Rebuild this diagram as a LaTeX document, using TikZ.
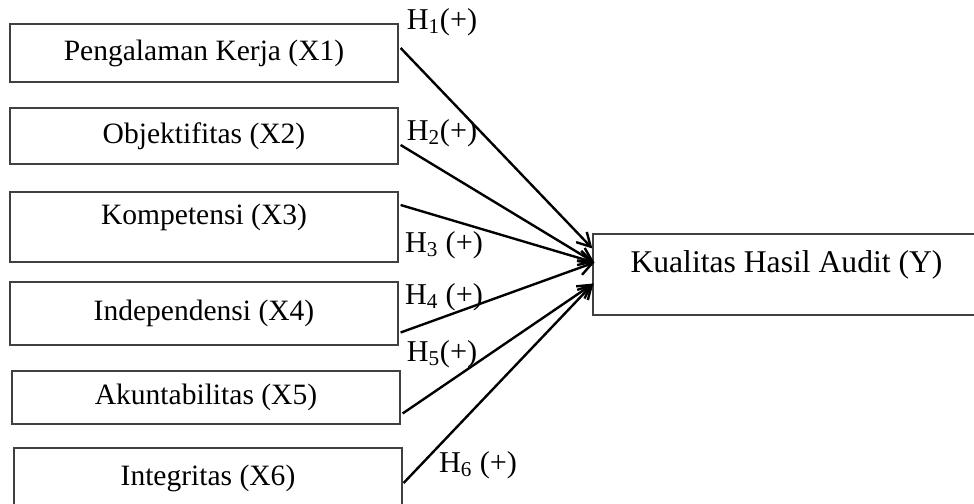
\documentclass[tikz,border=0pt]{standalone}
\usepackage{fontspec}
\setmainfont{Liberation Serif}
\usetikzlibrary{positioning}
\usetikzlibrary{calc}
\usetikzlibrary{arrows.meta}

\begin{document}
\begin{tikzpicture}[x = 0.025cm, y = -0.025cm,
                            varbox/.style = {draw = black!75, line width = 0.8pt, inner sep = 0pt, minimum width = 9.7cm, font = \fontsize{21}{25}\selectfont},
                            hlabel/.style = {inner sep = 0pt, font = \fontsize{21.5}{25}\selectfont},
                            link/.style = {black, line width = 1.7pt, -{Straight Barb[length = 9.5pt, width = 10.5pt]}}]
                            \useasboundingbox (0, 0) rectangle (974, 504);
                            \node[varbox, minimum height = 1.45cm] (x1) at (204, 53) {Pengalaman Kerja (X1)};
                            \node[varbox, minimum height = 1.4cm] (x2) at (204, 136) {Objektifitas (X2)};
                            \node[varbox, minimum height = 1.75cm, text height = 0.51cm, text depth = 0.62cm] (x3) at (204, 227) {Kompetensi (X3)};
                            \node[varbox, minimum height = 1.575cm] (x4) at (204, 313.5) {Independensi (X4)};
                            \node[varbox, minimum height = 1.325cm] (x5) at (206, 397.5) {Akuntabilitas (X5)};
                            \node[varbox, minimum height = 1.5cm] (x6) at (208, 478) {Integritas (X6)};
                            \node[varbox, minimum width = 9.675cm, minimum height = 2.025cm, text height = 0.55cm, text depth = 0.67cm, font = \fontsize{22.5}{27}\selectfont] (kha) at (786.5, 274.5) {Kualitas Hasil Audit (Y)};
                            \draw[link] ($(x1.east) + (2, -5)$) -- ($(kha.west) + (0, -26)$);
                            \draw[link] ($(x2.east) + (2, 9)$) -- ($(kha.west) + (2, -12)$);
                            \draw[link] ($(x3.east) + (2, -22)$) -- ($(kha.west) + (2, -12)$);
                            \draw[link] ($(x4.east) + (2, 19)$) -- ($(kha.west) + (2, -12)$);
                            \draw[link] ($(x5.east) + (2, 16)$) -- ($(kha.west) + (1, 9)$);
                            \draw[link] ($(x6.east) + (1, 5)$) -- ($(kha.west) + (1, 9)$);
                            \node[hlabel] (h1) at (442, 22) {H\textsubscript{1}(+)};
                            \node[hlabel] (h2) at (442, 133) {H\textsubscript{2}(+)};
                            \node[hlabel] (h3) at (444, 245) {H\textsubscript{3} (+)};
                            \node[hlabel] (h4) at (444, 297) {H\textsubscript{4} (+)};
                            \node[hlabel] (h5) at (442, 354) {H\textsubscript{5}(+)};
                            \node[hlabel] (h6) at (478, 465) {H\textsubscript{6} (+)};
                        \end{tikzpicture}
\end{document}
